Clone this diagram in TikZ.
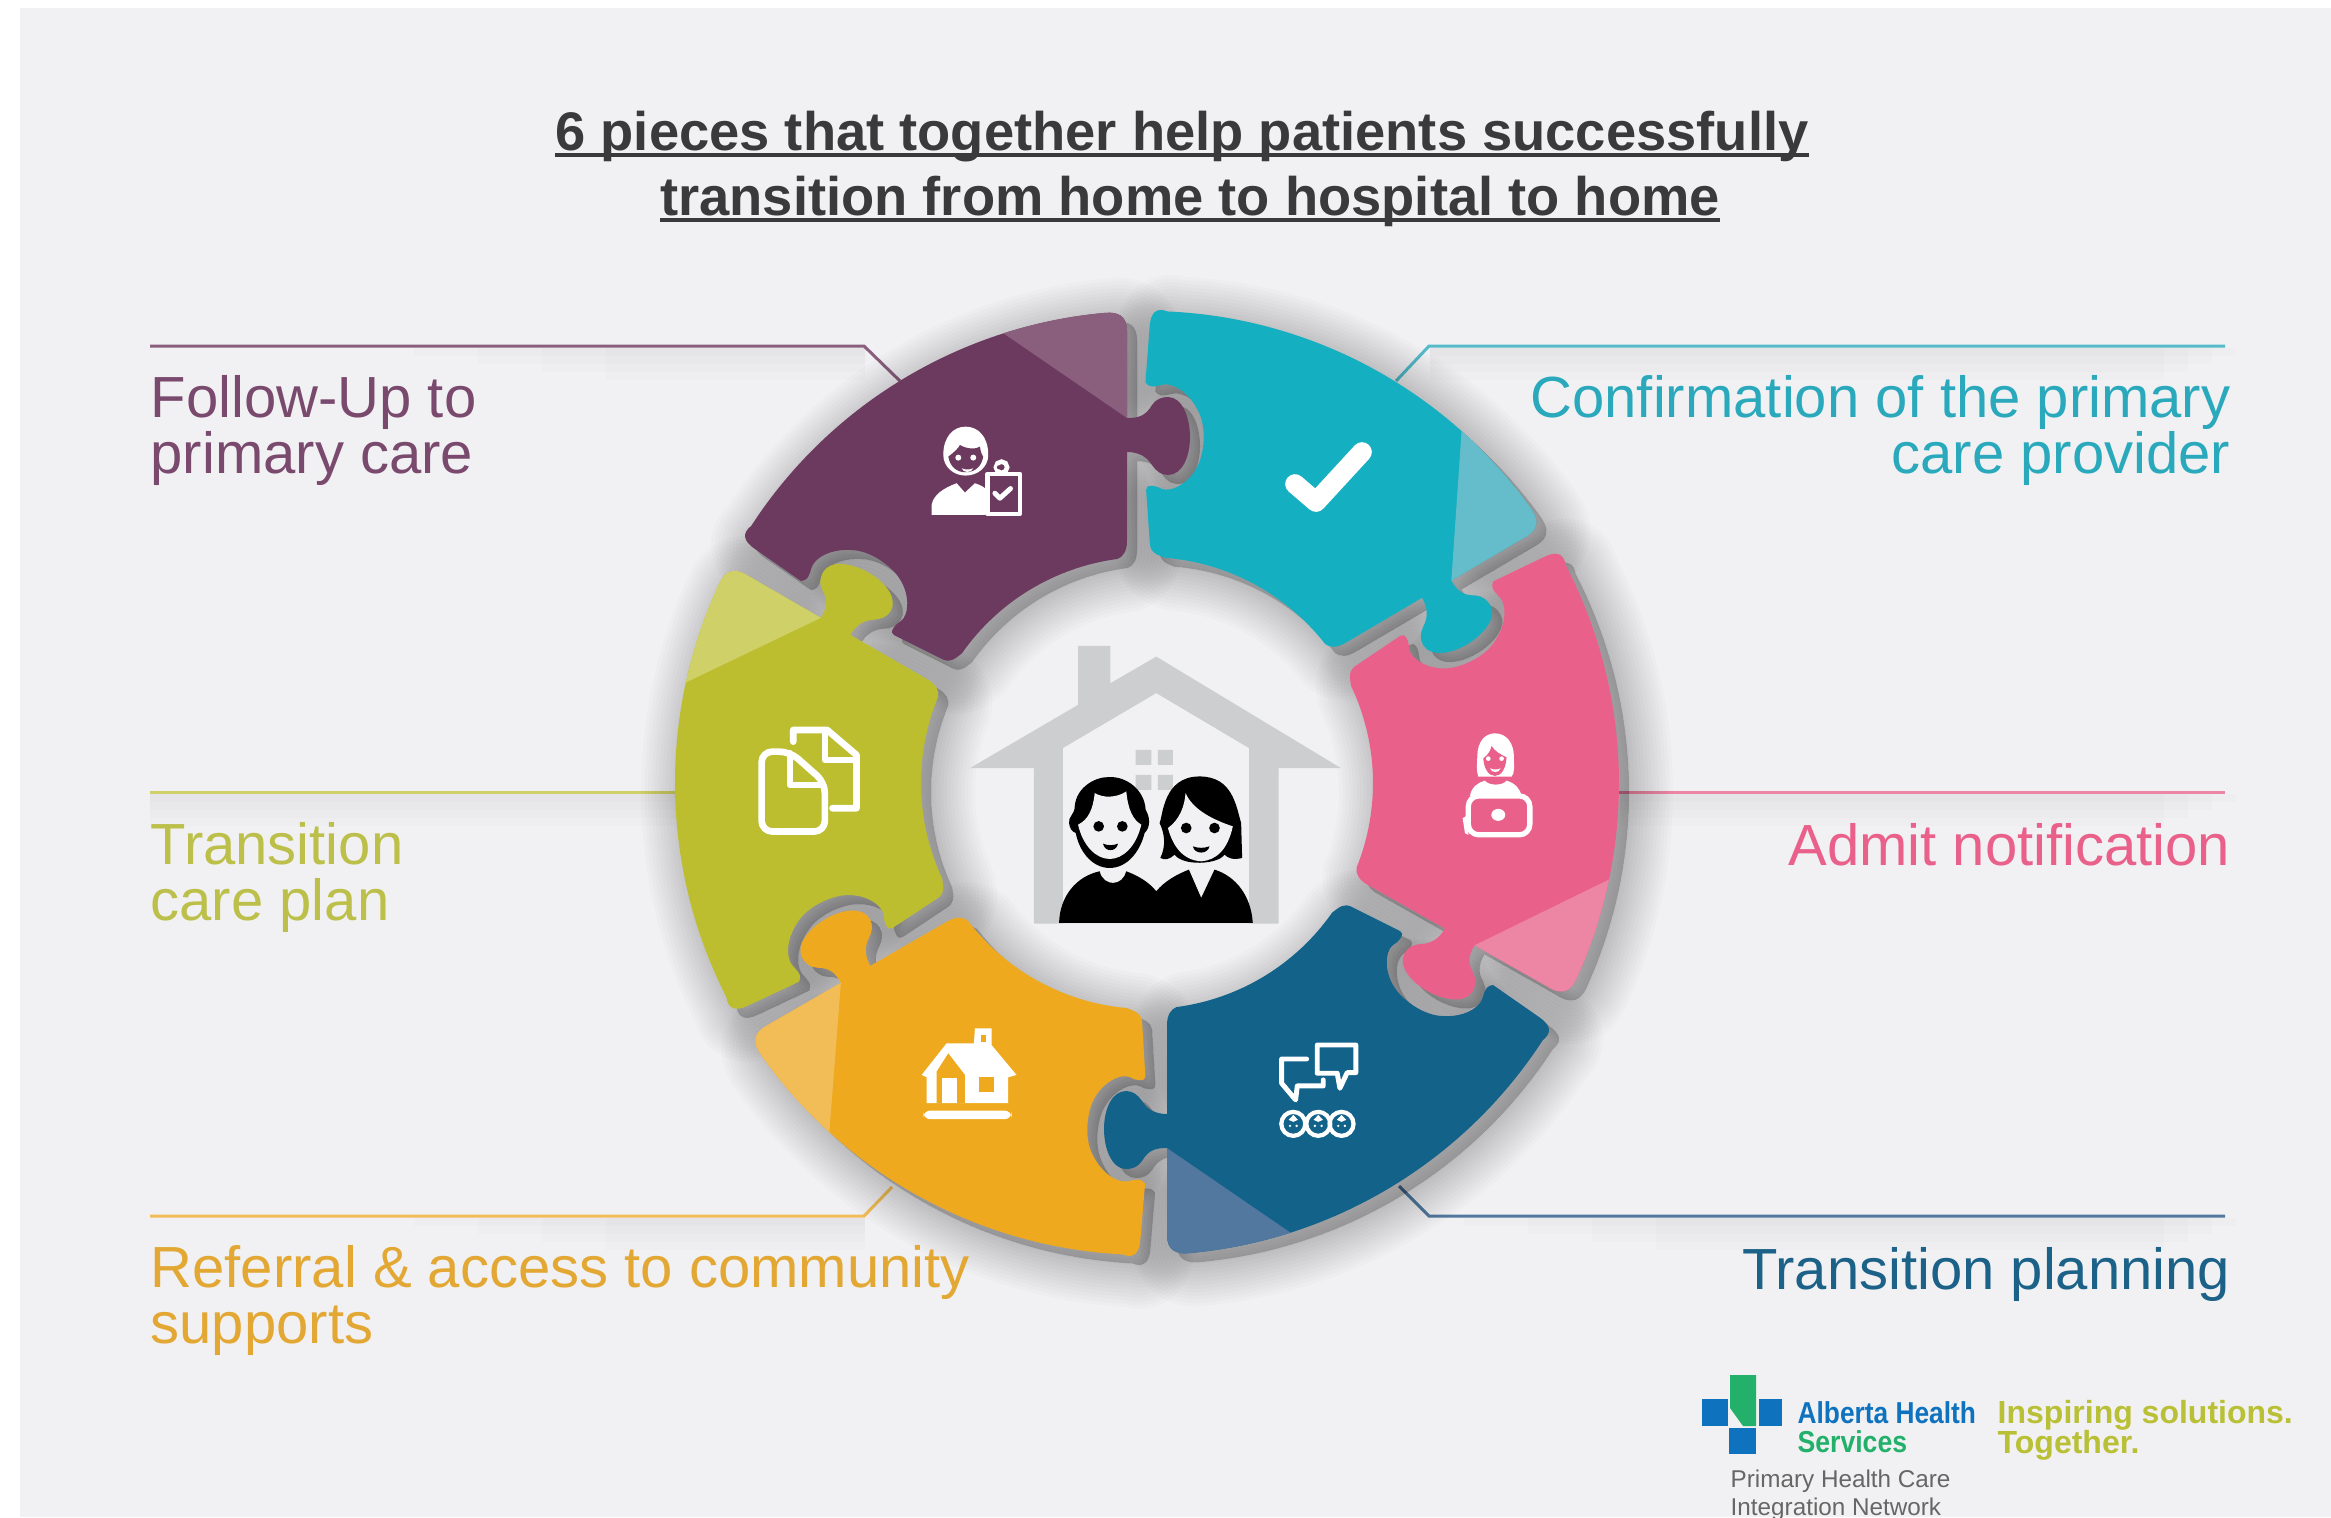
\documentclass[tikz,border=0pt]{standalone}
\usepackage{fontspec}
\setmainfont{Liberation Sans}
\definecolor{panelbg}{HTML}{F1F1F3}
\definecolor{titlegray}{HTML}{3A3A3C}
\definecolor{piecepurple}{HTML}{6D3A5F}
\definecolor{foldpurple}{HTML}{8A5F7E}
\definecolor{piececyan}{HTML}{14AFC0}
\definecolor{foldcyan}{HTML}{65BDCB}
\definecolor{piecepink}{HTML}{E9618B}
\definecolor{foldpink}{HTML}{EC86A4}
\definecolor{pieceblue}{HTML}{12628A}
\definecolor{foldblue}{HTML}{5278A0}
\definecolor{pieceorange}{HTML}{EEA91E}
\definecolor{foldorange}{HTML}{F2BC57}
\definecolor{piecegreen}{HTML}{BCBE2F}
\definecolor{foldgreen}{HTML}{CFD067}
\definecolor{houseroof}{HTML}{CDCED0}
\definecolor{logoblue}{HTML}{0F72BE}
\definecolor{logogreen}{HTML}{22B06A}
\definecolor{logoolive}{HTML}{B9C035}
\definecolor{textpurple}{HTML}{7A4A6E}
\definecolor{textcyan}{HTML}{2AA9BC}
\definecolor{textgreen}{HTML}{BCC04A}
\definecolor{textorange}{HTML}{E3A733}
\definecolor{textblue}{HTML}{1C6288}
\tikzset{
  labeltext/.style={inner sep=0pt,font=\fontsize{16.5}{15.65}\selectfont},
  labelline/.style={line width=0.85pt},
  bandfill/.style={black,opacity=0.012},
  zoomthree/.style={x=0.00333cm,y=-0.00333cm},
  iconline/.style={draw=white,line join=round,line cap=round,fill=none},
  titletext/.style={inner sep=0pt,anchor=base,text=titlegray,font=\fontsize{15.45}{18}\selectfont\bfseries},
}
\newcommand{\titleline}[1]{\setbox0\hbox{#1}\rlap{\rule[-2pt]{\wd0}{1.1pt}}\box0}
\newcommand{\piecepath}{(-20,452) -- (-20,365)
  .. controls (-10,365) and (-2,366) .. (5,378)
  .. controls (9,384) and (15,386) .. (21,386)
  .. controls (35,386) and (43,366) .. (43,346)
  .. controls (43,326) and (35,308) .. (21,308)
  .. controls (14,308) and (9,312) .. (5,318)
  .. controls (0,326) and (-8,331) .. (-20,331)
  -- (-20,242) .. controls (-20,232) and (-24,226) .. (97.5:226)
  arc[start angle=97.5,end angle=145,radius=226]
  .. controls (-192,124.5) and (-197,119) .. (-207,125)
  -- (-253,148) .. controls (-258,150) and (-253,158) .. (-246,162)
  .. controls (-238,168) and (-236,190) .. (-250,208)
  .. controls (-258,218) and (-276,232) .. (-295,233)
  .. controls (-310,234) and (-325,230) .. (-333,220)
  .. controls (-338,213) and (-336,203) .. (-346,202)
  -- (-392,234) .. controls (-404,242) and (-405,250) .. (147:472)
  arc[start angle=147,end angle=95,radius=472]
  .. controls (-30,471) and (-20,468) .. (-20,452) -- cycle}
\newcommand{\foldpath}{(-20,365) -- (107.7:472)
  arc[start angle=107.7,end angle=95,radius=472]
  .. controls (-30,471) and (-20,468) .. (-20,452) -- cycle}
\begin{document}
\begin{tikzpicture}[x=0.01cm,y=-0.01cm]
  \useasboundingbox (0,0) rectangle (2331,1517);
  \fill[panelbg] (20,8) rectangle (2331,1517);

  % soft bands under the label lines
  \foreach \h in {8,16,24,32} {
    \fill[bandfill] (350+8*\h,348) rectangle (865,348+\h);
    \fill[bandfill] (1430,348) rectangle (2260-3*\h,348+\h);
    \fill[bandfill] (150,794) rectangle (680,794+\h);
    \fill[bandfill] (1620,794) rectangle (2260-3*\h,794+\h);
    \fill[bandfill] (350+8*\h,1218) rectangle (865,1218+\h);
    \fill[bandfill] (1400+8*\h,1218) rectangle (2260-3*\h,1218+\h);
  }

  % label lines
  \coordinate (follow start) at (150,346);
  \coordinate (follow bend) at (864,346);
  \coordinate (follow end) at (900,381);
  \coordinate (confirm start) at (2225,346);
  \coordinate (confirm bend) at (1429,346);
  \coordinate (confirm end) at (1396,381);
  \coordinate (plan start) at (150,792);
  \coordinate (plan end) at (680,792);
  \coordinate (admit start) at (2225,792);
  \coordinate (admit end) at (1615,792);
  \coordinate (referral start) at (150,1216);
  \coordinate (referral bend) at (864,1216);
  \coordinate (referral end) at (892,1187);
  \coordinate (planning start) at (2225,1216);
  \coordinate (planning bend) at (1429,1216);
  \coordinate (planning end) at (1399,1186);
  \draw[labelline,draw=foldpurple] (follow start) -- (follow bend) -- (follow end);
  \draw[labelline,draw=foldcyan!80!piececyan] (confirm start) -- (confirm bend) -- (confirm end);
  \draw[labelline,draw=foldgreen] (plan start) -- (plan end);
  \draw[labelline,draw=foldpink] (admit start) -- (admit end);
  \draw[labelline,draw=foldorange] (referral start) -- (referral bend) -- (referral end);
  \draw[labelline,draw=foldblue] (planning start) -- (planning bend) -- (planning end);

  % shadows first, all six, then the pieces on top
  \foreach \rot in {0,-59.5,-119.5,-180,-240,-300} {
    \begin{scope}[shift={(1157,792)},y=0.01cm,rotate=\rot]
      \foreach \w in {1,3,...,25}
        \path[draw=black,fill=black,opacity=0.014,line width=\w pt,line join=round] \piecepath;
    \end{scope}
  }
  \foreach \rot/\colname in {0/purple,-59.5/cyan,-119.5/pink,-180/blue,-240/orange,-300/green} {
    \begin{scope}[shift={(1147,783)},y=0.01cm,rotate=\rot]
      \fill[piece\colname] \piecepath;
      \fill[fold\colname] \foldpath;
    \end{scope}
  }

  % person with clipboard
  \begin{scope}[shift={(920,410)},zoomthree]
    \fill[white] (70,135) .. controls (70,80) and (100,50) .. (137,50) .. controls (175,50) and (205,80) .. (205,135) .. controls (205,170) and (175,197) .. (137,197) .. controls (100,197) and (70,170) .. (70,135) -- cycle;
    \fill[piecepurple] (85,140) .. controls (105,125) and (115,115) .. (120,105) .. controls (140,118) and (170,118) .. (180,110) .. controls (182,125) and (186,135) .. (190,140) .. controls (185,170) and (165,187) .. (137,187) .. controls (110,187) and (90,170) .. (85,140) -- cycle;
    \fill[white] (115,143) circle (9) (160,143) circle (9);
    \fill[white] (125,175) .. controls (135,180) and (150,180) .. (160,175) .. controls (155,190) and (130,190) .. (125,175) -- cycle;
    \fill[white] (35,315) -- (35,285) .. controls (40,255) and (70,235) .. (110,220) -- (135,248) -- (165,220) .. controls (180,225) and (190,230) .. (195,235) -- (195,315) -- cycle;
    \draw[iconline,line width=1.3pt] (203,192) rectangle (300,312);
    \draw[white,line width=1.3pt] (245,172) circle (17);
    \fill[piecepurple] (237,172) circle (6);
    \draw[iconline,line width=1.4pt] (225,250) -- (240,265) -- (272,236);
  \end{scope}

  % check mark
  \draw[iconline,line width=5.6pt] (1295,484) -- (1316,502) -- (1362,452);

  % woman with laptop
  \begin{scope}[shift={(1440,720)},zoomthree]
    \fill[white] (112,110) .. controls (112,65) and (135,40) .. (165,40) .. controls (200,40) and (222,70) .. (222,110) .. controls (222,140) and (225,160) .. (215,170) -- (115,170) .. controls (108,150) and (112,130) .. (112,110) -- cycle;
    \fill[piecepink] (130,115) .. controls (145,105) and (152,90) .. (155,78) .. controls (165,95) and (185,105) .. (200,112) .. controls (198,145) and (185,168) .. (165,168) .. controls (145,168) and (132,145) .. (130,115) -- cycle;
    \fill[white] (145,116) circle (7) (185,116) circle (7);
    \fill[white] (150,145) .. controls (160,150) and (172,150) .. (182,145) .. controls (178,160) and (155,160) .. (150,145) -- cycle;
    \fill[white] (90,228) .. controls (95,200) and (115,188) .. (135,182) .. controls (145,198) and (190,198) .. (200,182) .. controls (225,190) and (240,205) .. (245,228) -- cycle;
    \draw[iconline,line width=1.5pt,rounded corners=3pt] (85,228) rectangle (270,345);
    \fill[white] (175,285) ellipse (21 and 18);
    \fill[white] (68,295) -- (85,285) -- (85,345) -- (75,340) -- cycle;
  \end{scope}

  % speech bubbles and three faces
  \begin{scope}[shift={(1260,1020)},zoomthree]
    \draw[iconline,line width=1.4pt] (172,75) -- (288,75) -- (288,158) -- (262,158) -- (240,205) -- (232,160) -- (172,160) -- cycle;
    \draw[iconline,line width=1.4pt] (140,117) -- (65,117) -- (65,190) -- (107,240) -- (112,198) -- (190,198) -- (190,180);
    \foreach \fx in {100,175,245} {
      \draw[white,line width=1.2pt] (\fx,312) ellipse (36 and 36);
      \fill[white] (\fx-14,300) -- (\fx,285) -- (\fx+14,300) -- (\fx,306) -- cycle;
      \fill[white] (\fx-10,318) circle (4) (\fx+10,318) circle (4);
    }
  \end{scope}

  % two documents
  \begin{scope}[shift={(740,710)},zoomthree]
    \draw[iconline,line width=1.9pt] (160,95) -- (160,60) -- (262,60) -- (350,135) -- (350,295) -- (278,295);
    \draw[iconline,line width=1.9pt] (255,65) -- (255,150) -- (345,150);
    \draw[iconline,line width=1.9pt,rounded corners=3pt] (65,125) -- (150,125) -- (255,218) -- (255,365) -- (65,365) -- cycle;
    \draw[iconline,line width=1.9pt] (150,130) -- (150,225) -- (250,225);
  \end{scope}

  % small house
  \begin{scope}[shift={(910,1020)},zoomthree]
    \fill[white] (35,165) -- (110,70) -- (192,70) -- (195,25) -- (245,25) -- (245,75) -- (320,165) -- (295,172) -- (295,250) -- (50,250) -- (50,172) -- cycle;
    \fill[pieceorange] (80,250) -- (80,155) -- (115,100) -- (165,165) -- (165,250) -- cycle;
    \fill[white] (95,175) rectangle (140,250);
    \fill[pieceorange] (207,172) rectangle (252,217);
    \fill[pieceorange] (213,45) rectangle (228,65);
    \fill[white,rounded corners=2pt] (40,272) rectangle (305,298);
  \end{scope}

  % house in the middle
  \begin{scope}[shift={(900,620)},zoomthree]
    \fill[houseroof] (210,445) -- (535,255) -- (535,78) -- (632,78) -- (632,190) -- (770,110) -- (1325,445) -- (1138,445) -- (1138,912) -- (402,912) -- (402,445) -- cycle;
    \fill[panelbg] (770,220) -- (1048,385) -- (1048,912) -- (490,912) -- (490,385) -- cycle;
    \fill[houseroof] (708,390) rectangle (755,435) (775,390) rectangle (820,435) (708,465) rectangle (755,510) (775,465) rectangle (820,510);
    % man
    \fill[black] (508,610) .. controls (505,590) and (525,585) .. (525,560) .. controls (530,500) and (590,470) .. (630,472) .. controls (680,470) and (735,510) .. (738,570) .. controls (750,590) and (755,620) .. (735,640) .. controls (720,700) and (680,745) .. (630,745) .. controls (580,745) and (540,700) .. (528,640) .. controls (515,635) and (510,625) .. (508,610) -- cycle;
    \fill[panelbg] (535,615) .. controls (565,600) and (580,570) .. (585,520) .. controls (610,535) and (650,535) .. (680,515) .. controls (685,570) and (700,600) .. (725,615) .. controls (710,680) and (670,718) .. (630,718) .. controls (590,718) and (550,680) .. (535,615) -- cycle;
    \fill[black] (597,620) circle (16) (668,620) circle (16);
    \fill[black] (610,672) .. controls (625,678) and (640,678) .. (655,672) .. controls (650,698) and (615,698) .. (610,672) -- cycle;
    % woman
    \fill[black] (780,610) .. controls (790,590) and (790,470) .. (900,470) .. controls (1000,470) and (1010,560) .. (1025,610) -- (1028,715) .. controls (1000,722) and (985,715) .. (975,705) .. controls (955,735) and (850,740) .. (825,705) .. controls (810,720) and (795,722) .. (782,715) .. controls (800,680) and (795,640) .. (780,610) -- cycle;
    \fill[panelbg] (805,625) .. controls (840,600) and (855,560) .. (858,520) .. controls (880,570) and (940,600) .. (1000,620) .. controls (985,690) and (950,722) .. (905,725) .. controls (850,722) and (820,680) .. (805,625) -- cycle;
    \fill[black] (860,625) circle (16) (945,625) circle (16);
    \fill[black] (880,680) .. controls (895,686) and (915,686) .. (930,680) .. controls (925,705) and (885,705) .. (880,680) -- cycle;
    % both bodies
    \fill[black] (478,910) .. controls (480,830) and (530,770) .. (600,755) .. controls (605,780) and (625,790) .. (640,790) .. controls (660,790) and (675,775) .. (680,755) .. controls (720,770) and (750,790) .. (770,815) .. controls (795,785) and (830,765) .. (868,750) -- (905,835) -- (945,750) .. controls (1010,770) and (1055,830) .. (1060,910) -- cycle;
  \end{scope}

  % title
  \node (title one) [titletext] at (1182,150) {\titleline{6 pieces that together help patients successfully}};
  \node (title two) [titletext] at (1190,215) {\titleline{transition from home to hospital to home}};

  % labels, anchored on their last line
  \node (follow label) [labeltext,anchor=base west,align=left,text=textpurple] at (150,473) {Follow-Up to\\primary care};
  \node (confirm label) [labeltext,anchor=base east,align=right,text=textcyan] at (2231,473) {Confirmation of the primary\\care provider};
  \node (plan label) [labeltext,anchor=base west,align=left,text=textgreen] at (150,920) {Transition\\care plan};
  \node (admit label) [labeltext,anchor=base east,text=piecepink] at (2231,865) {Admit notification};
  \node (referral label) [labeltext,anchor=base west,align=left,text=textorange] at (150,1343) {Referral \& access to community\\supports};
  \node (planning label) [labeltext,anchor=base east,text=textblue] at (2231,1289) {Transition planning};

  % logo
  \fill[logoblue] (1702,1399) rectangle (1728,1426);
  \fill[logoblue] (1759,1399) rectangle (1782,1426);
  \fill[logoblue] (1729,1428) rectangle (1756,1454);
  \fill[logogreen] (1730,1375) -- (1756,1375) -- (1756,1426) -- (1743,1426) -- (1730,1408) -- cycle;
  \node (alberta name) [inner sep=0pt,anchor=base west,xscale=0.87,transform shape,text=logoblue,font=\fontsize{8.6}{10}\selectfont\bfseries] at (1797,1423) {Alberta Health};
  \node (alberta services) [inner sep=0pt,anchor=base west,xscale=0.88,transform shape,text=logogreen,font=\fontsize{8.6}{10}\selectfont\bfseries] at (1797,1452) {Services};
  \node (slogan one) [inner sep=0pt,anchor=base west,text=logoolive,font=\fontsize{9.1}{10}\selectfont\bfseries] at (1997,1423) {Inspiring solutions.};
  \node (slogan two) [inner sep=0pt,anchor=base west,text=logoolive,font=\fontsize{9.1}{10}\selectfont\bfseries] at (1997,1453) {Together.};
  \node (network one) [inner sep=0pt,anchor=base west,text=black!60,font=\fontsize{6.9}{8}\selectfont] at (1730,1487) {Primary Health Care};
  \node (network two) [inner sep=0pt,anchor=base west,text=black!60,font=\fontsize{6.9}{8}\selectfont] at (1730,1515) {Integration Network};
\end{tikzpicture}
\end{document}
